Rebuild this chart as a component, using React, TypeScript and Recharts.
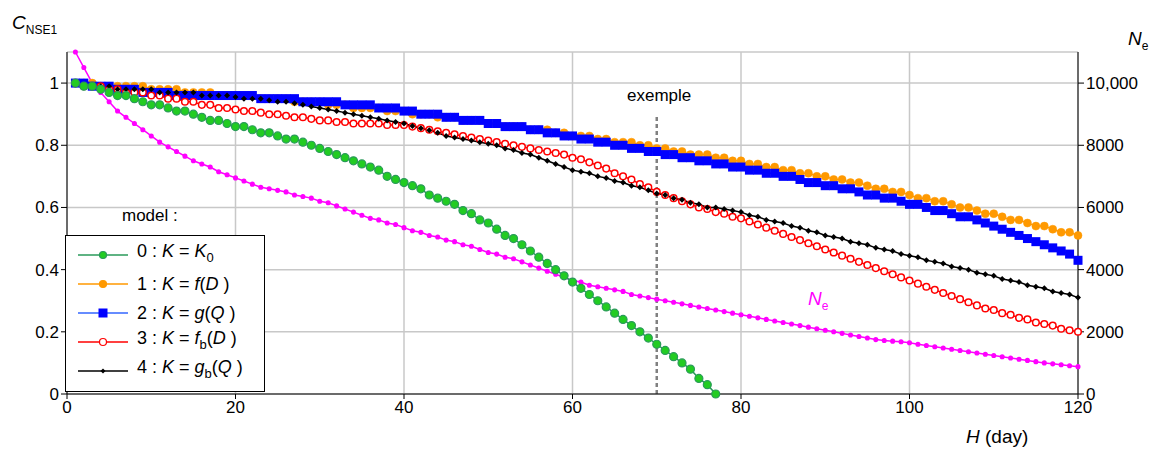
import React from "react"
import { LineChart, Line, XAxis, YAxis, ReferenceLine, CartesianGrid } from "recharts"

const days = Array.from({ length: 120 }, (_, i) => i + 1)

const model0 = [
  1.00, 0.99, 0.99, 0.98, 0.97, 0.96, 0.96, 0.95, 0.94, 0.93,
  0.93, 0.92, 0.91, 0.91, 0.90, 0.89, 0.88, 0.88, 0.87, 0.86,
  0.86, 0.85, 0.84, 0.84, 0.83, 0.82, 0.82, 0.81, 0.80, 0.79,
  0.78, 0.77, 0.76, 0.75, 0.74, 0.73, 0.72, 0.70, 0.69, 0.68,
  0.67, 0.66, 0.64, 0.63, 0.62, 0.61, 0.59, 0.58, 0.56, 0.55,
  0.53, 0.51, 0.50, 0.48, 0.46, 0.44, 0.42, 0.40, 0.38, 0.36,
  0.34, 0.32, 0.30, 0.28, 0.26, 0.24, 0.22, 0.20, 0.18, 0.16,
  0.14, 0.12, 0.10, 0.08, 0.05, 0.03, 0.00,
]
const model1 = [
  1.00, 1.00, 1.00, 0.99, 0.99, 0.99, 0.99, 0.99, 0.99, 0.98,
  0.98, 0.98, 0.98, 0.97, 0.97, 0.97, 0.97, 0.96, 0.96, 0.96,
  0.96, 0.96, 0.95, 0.95, 0.95, 0.95, 0.94, 0.94, 0.94, 0.94,
  0.93, 0.93, 0.93, 0.92, 0.92, 0.92, 0.92, 0.91, 0.91, 0.91,
  0.90, 0.90, 0.90, 0.89, 0.89, 0.89, 0.88, 0.88, 0.88, 0.87,
  0.87, 0.86, 0.86, 0.86, 0.85, 0.85, 0.85, 0.84, 0.84, 0.83,
  0.83, 0.83, 0.82, 0.82, 0.81, 0.81, 0.81, 0.80, 0.80, 0.79,
  0.79, 0.78, 0.78, 0.77, 0.77, 0.77, 0.76, 0.76, 0.75, 0.75,
  0.74, 0.74, 0.73, 0.73, 0.72, 0.72, 0.71, 0.71, 0.70, 0.70,
  0.69, 0.69, 0.68, 0.68, 0.67, 0.66, 0.66, 0.65, 0.65, 0.64,
  0.63, 0.63, 0.62, 0.62, 0.61, 0.60, 0.60, 0.59, 0.58, 0.58,
  0.57, 0.56, 0.56, 0.55, 0.54, 0.54, 0.53, 0.52, 0.52, 0.51,
]
const model2 = [
  1.00, 1.00, 0.99, 0.99, 0.99, 0.98, 0.98, 0.98, 0.97, 0.97,
  0.97, 0.97, 0.96, 0.96, 0.96, 0.96, 0.96, 0.96, 0.96, 0.96,
  0.96, 0.96, 0.95, 0.95, 0.95, 0.95, 0.95, 0.94, 0.94, 0.94,
  0.94, 0.94, 0.93, 0.93, 0.93, 0.93, 0.92, 0.92, 0.92, 0.91,
  0.91, 0.90, 0.90, 0.90, 0.89, 0.89, 0.88, 0.88, 0.88, 0.87,
  0.87, 0.86, 0.86, 0.86, 0.85, 0.85, 0.84, 0.84, 0.83, 0.83,
  0.82, 0.82, 0.81, 0.81, 0.80, 0.80, 0.79, 0.79, 0.78, 0.78,
  0.77, 0.77, 0.76, 0.76, 0.75, 0.75, 0.74, 0.74, 0.73, 0.73,
  0.72, 0.72, 0.71, 0.71, 0.70, 0.70, 0.69, 0.68, 0.68, 0.67,
  0.67, 0.66, 0.66, 0.65, 0.64, 0.64, 0.63, 0.63, 0.62, 0.61,
  0.61, 0.60, 0.59, 0.59, 0.58, 0.57, 0.57, 0.56, 0.55, 0.54,
  0.53, 0.52, 0.51, 0.50, 0.49, 0.48, 0.47, 0.46, 0.45, 0.43,
]
const model3 = [
  1.00, 0.99, 0.99, 0.99, 0.98, 0.98, 0.97, 0.97, 0.97, 0.96,
  0.96, 0.95, 0.95, 0.94, 0.94, 0.93, 0.93, 0.92, 0.92, 0.915,
  0.91, 0.91, 0.905, 0.90, 0.90, 0.895, 0.89, 0.89, 0.885, 0.88,
  0.88, 0.875, 0.875, 0.87, 0.87, 0.87, 0.87, 0.865, 0.865, 0.865,
  0.86, 0.855, 0.85, 0.845, 0.84, 0.835, 0.83, 0.825, 0.82, 0.815,
  0.81, 0.805, 0.80, 0.795, 0.79, 0.785, 0.78, 0.775, 0.77, 0.76,
  0.755, 0.745, 0.735, 0.725, 0.71, 0.70, 0.69, 0.675, 0.665, 0.65,
  0.64, 0.63, 0.62, 0.61, 0.60, 0.595, 0.585, 0.58, 0.57, 0.565,
  0.555, 0.545, 0.535, 0.525, 0.515, 0.505, 0.495, 0.485, 0.475, 0.465,
  0.455, 0.445, 0.435, 0.425, 0.415, 0.405, 0.395, 0.385, 0.375, 0.365,
  0.355, 0.345, 0.335, 0.325, 0.315, 0.305, 0.295, 0.285, 0.275, 0.27,
  0.26, 0.255, 0.245, 0.24, 0.23, 0.225, 0.22, 0.21, 0.205, 0.20,
]
const model4 = [
  1.00, 0.99, 0.99, 0.99, 0.99, 0.98, 0.98, 0.98, 0.98, 0.98,
  0.97, 0.97, 0.97, 0.97, 0.97, 0.96, 0.96, 0.96, 0.96, 0.955,
  0.95, 0.95, 0.95, 0.945, 0.94, 0.94, 0.935, 0.93, 0.925, 0.92,
  0.915, 0.91, 0.905, 0.90, 0.895, 0.89, 0.885, 0.88, 0.875, 0.87,
  0.862, 0.855, 0.848, 0.84, 0.83, 0.825, 0.82, 0.815, 0.81, 0.805,
  0.80, 0.79, 0.785, 0.775, 0.77, 0.76, 0.75, 0.74, 0.73, 0.72,
  0.715, 0.71, 0.70, 0.695, 0.685, 0.68, 0.67, 0.665, 0.655, 0.645,
  0.64, 0.63, 0.625, 0.615, 0.61, 0.60, 0.60, 0.595, 0.59, 0.585,
  0.575, 0.57, 0.56, 0.555, 0.55, 0.54, 0.535, 0.525, 0.52, 0.51,
  0.505, 0.50, 0.49, 0.485, 0.48, 0.47, 0.465, 0.46, 0.45, 0.445,
  0.44, 0.43, 0.425, 0.42, 0.41, 0.405, 0.40, 0.39, 0.385, 0.38,
  0.37, 0.365, 0.36, 0.35, 0.345, 0.34, 0.33, 0.325, 0.32, 0.31,
]
const ne = [
  11000, 10500, 10000, 9700, 9400, 9100, 8900, 8700, 8500, 8300,
  8100, 7950, 7800, 7650, 7500, 7400, 7300, 7150, 7050, 6950,
  6850, 6750, 6650, 6600, 6550, 6500, 6400, 6350, 6300, 6200,
  6150, 6050, 5950, 5850, 5750, 5650, 5600, 5500, 5450, 5350,
  5250, 5200, 5100, 5050, 4950, 4900, 4800, 4750, 4650, 4550,
  4500, 4400, 4350, 4250, 4150, 4050, 3950, 3850, 3750, 3650,
  3600, 3500, 3450, 3400, 3350, 3300, 3200, 3150, 3100, 3050,
  3000, 2950, 2900, 2850, 2800, 2750, 2700, 2650, 2600, 2550,
  2500, 2450, 2400, 2350, 2300, 2250, 2200, 2150, 2100, 2050,
  2000, 1950, 1900, 1850, 1800, 1750, 1720, 1700, 1680, 1650,
  1600, 1560, 1520, 1480, 1440, 1400, 1360, 1320, 1280, 1240,
  1200, 1160, 1120, 1080, 1040, 1000, 970, 940, 910, 880,
]

const xTicks = [0, 20, 40, 60, 80, 100, 120]
const leftTicks = [0, 0.2, 0.4, 0.6, 0.8, 1]
const rightTicks = [0, 2000, 4000, 6000, 8000, 10000]

const data = days.map((d, i) => ({
  day: d,
  m0: model0[i],
  m1: model1[i],
  m2: model2[i],
  m3: model3[i],
  m4: model4[i],
  ne: ne[i],
}))

const font = "'Liberation Sans', Arial, sans-serif"

const Square = (p: any) =>
  p.cy == null ? null : <rect x={p.cx - 4.5} y={p.cy - 4.5} width={9} height={9} fill="#0000ff" />
const Diamond = (p: any) =>
  p.cy == null ? null : (
    <path d={`M${p.cx},${p.cy - 3}L${p.cx + 3},${p.cy}L${p.cx},${p.cy + 3}L${p.cx - 3},${p.cy}Z`} fill="#000" />
  )

const legendRows = [
  { color: "#2a9a5a", fill: "#22cc22", shape: "circle", label: <>0 : <i>K</i> = <i>K</i><sub style={{ fontSize: 13 }}>0</sub></> },
  { color: "#ff9900", fill: "#ff9900", shape: "circle", label: <>1 : <i>K</i> = <i>f</i>(<i>D</i> )</> },
  { color: "#3366ff", fill: "#0000ff", shape: "square", label: <>2 : <i>K</i> = <i>g</i>(<i>Q</i> )</> },
  { color: "#ff0000", fill: "#fff", shape: "circle", label: <>3 : <i>K</i> = <i>f</i><sub style={{ fontSize: 13 }}>b</sub>(<i>D</i> )</> },
  { color: "#000", fill: "#000", shape: "diamond", label: <>4 : <i>K</i> = <i>g</i><sub style={{ fontSize: 13 }}>b</sub>(<i>Q</i> )</> },
]

export default function App() {
  return (
    <div style={{ position: "absolute", left: 0, top: 0, width: 1161, height: 452, background: "#fff", fontFamily: font }}>
      <LineChart width={1161} height={452} data={data} margin={{ top: 52, right: 8, bottom: 28, left: 0 }}>
        <CartesianGrid yAxisId="l" stroke="#c8c8c8" strokeWidth={1.5} />
        <XAxis dataKey="day" type="number" domain={[0, 120]} ticks={xTicks} height={30}
          tick={{ fill: "#000", fontSize: 17, fontFamily: font }} stroke="#000" tickSize={5} />
        <YAxis yAxisId="l" domain={[0, 1.1]} ticks={leftTicks} width={67}
          tick={{ fill: "#000", fontSize: 17, fontFamily: font }} stroke="#000" tickFormatter={(v) => String(v)} />
        <YAxis yAxisId="r" orientation="right" domain={[0, 11000]} ticks={rightTicks} width={75}
          tick={{ fill: "#000", fontSize: 17, fontFamily: font }} stroke="#000"
          tickFormatter={(v) => (v >= 10000 ? v.toLocaleString("en-US") : String(v))} />
        <ReferenceLine yAxisId="l" segment={[{ x: 70, y: 0 }, { x: 70, y: 0.9 }]} stroke="#808080" strokeWidth={2.5} strokeDasharray="4 3" />
        <Line yAxisId="r" dataKey="ne" stroke="#ff00ff" strokeWidth={1.5} isAnimationActive={false}
          dot={{ r: 1.8, fill: "#ff00ff", stroke: "#ff00ff" }} />
        <Line yAxisId="l" dataKey="m1" stroke="#ff9900" strokeWidth={1.5} isAnimationActive={false}
          dot={{ r: 4, fill: "#ff9900", stroke: "#ff9900", strokeWidth: 0.5 }} />
        <Line yAxisId="l" dataKey="m2" stroke="#0000ff" strokeWidth={1.5} isAnimationActive={false} dot={<Square />} />
        <Line yAxisId="l" dataKey="m3" stroke="#ff0000" strokeWidth={1.5} isAnimationActive={false}
          dot={{ r: 3.3, fill: "#fff", stroke: "#ff0000", strokeWidth: 1.5 }} />
        <Line yAxisId="l" dataKey="m4" stroke="#000" strokeWidth={1.5} isAnimationActive={false} dot={<Diamond />} />
        <Line yAxisId="l" dataKey="m0" stroke="#2a9a5a" strokeWidth={1.5} isAnimationActive={false}
          dot={{ r: 4, fill: "#22cc22", stroke: "#2a9a5a", strokeWidth: 1.2 }} />
      </LineChart>

      <div style={{ position: "absolute", left: 12, top: 12, fontSize: 19 }}>
        <i>C</i><sub style={{ fontSize: 12 }}>NSE1</sub>
      </div>
      <div style={{ position: "absolute", left: 1128, top: 28, fontSize: 19 }}>
        <i>N</i><sub style={{ fontSize: 12 }}>e</sub>
      </div>
      <div style={{ position: "absolute", left: 966, top: 426, fontSize: 19 }}>
        <i>H</i> (day)
      </div>
      <div style={{ position: "absolute", left: 627, top: 86, fontSize: 17 }}>exemple</div>
      <div style={{ position: "absolute", left: 808, top: 288, fontSize: 19, color: "#ff00ff" }}>
        <i>N</i><sub style={{ fontSize: 12 }}>e</sub>
      </div>
      <div style={{ position: "absolute", left: 122, top: 206, fontSize: 17 }}>model :</div>

      <div style={{ position: "absolute", left: 65, top: 235, width: 200, height: 157, border: "1.5px solid #000",
        background: "#fff", fontSize: 18, paddingTop: 4, boxSizing: "border-box" }}>
        {legendRows.map((r, i) => (
          <div key={i} style={{ display: "flex", alignItems: "center", height: 29, whiteSpace: "nowrap" }}>
            <svg width={54} height={14} style={{ marginLeft: 10 }}>
              <line x1={2} y1={7} x2={52} y2={7} stroke={r.color} strokeWidth={1.5} />
              {r.shape === "circle" && <circle cx={27} cy={7} r={3.5} fill={r.fill} stroke={r.color} strokeWidth={1.2} />}
              {r.shape === "square" && <rect x={22.5} y={2.5} width={9} height={9} fill={r.fill} />}
              {r.shape === "diamond" && <path d="M27,4.5L29.5,7L27,9.5L24.5,7Z" fill="#000" />}
            </svg>
            <span style={{ marginLeft: 7, lineHeight: "18px" }}>{r.label}</span>
          </div>
        ))}
      </div>
    </div>
  )
}
